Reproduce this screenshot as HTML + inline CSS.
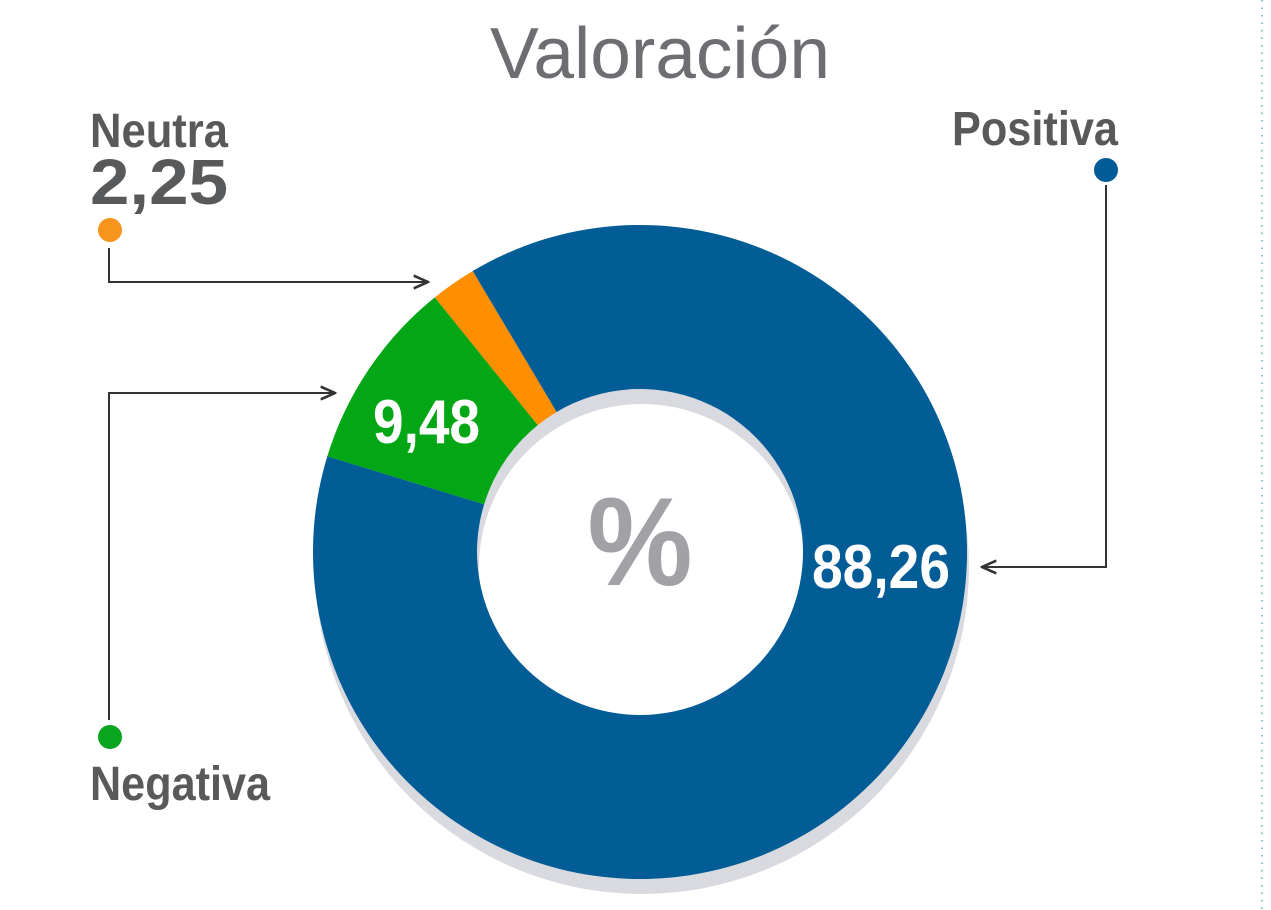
<!DOCTYPE html>
<html><head><meta charset="utf-8"><style>
body{margin:0;width:1271px;height:910px;background:#fff;overflow:hidden;position:relative;font-family:"Liberation Sans",sans-serif}
</style></head><body>
<svg width="1271" height="910" viewBox="0 0 1271 910" style="position:absolute;left:0;top:0">
<defs><marker id="arr" viewBox="0 0 10 10" refX="9" refY="5" markerWidth="8" markerHeight="8" orient="auto"><path d="M0,1 L9,5 L0,9" fill="none" stroke="#333" stroke-width="1.6"/></marker></defs>
<line x1="1262" y1="0" x2="1262" y2="910" stroke="#6ab" stroke-width="1.5" stroke-dasharray="1.5 6"/>
<text x="660" y="78" text-anchor="middle" font-size="72" textLength="340" lengthAdjust="spacingAndGlyphs" fill="#6d6e71">Valoración</text>
<g id="rings"></g>
<text x="640" y="585" text-anchor="middle" font-weight="bold" font-size="125" textLength="105" lengthAdjust="spacingAndGlyphs" fill="#a2a1a6">%</text>
<g font-weight="bold" fill="#58595b">
<text x="90" y="147" font-size="48" textLength="138" lengthAdjust="spacingAndGlyphs">Neutra</text>
<text x="90" y="204" font-size="64" textLength="138" lengthAdjust="spacingAndGlyphs" id="neutraVal"></text>
<text x="90" y="800" font-size="48" textLength="180" lengthAdjust="spacingAndGlyphs">Negativa</text>
<text x="952" y="145" font-size="48" textLength="166" lengthAdjust="spacingAndGlyphs">Positiva</text>
</g>
<circle cx="110" cy="230" r="12" fill="#f7941d"/>
<circle cx="110" cy="737" r="12" fill="#0aa51e"/>
<circle cx="1106" cy="170" r="12" fill="#005b96"/>
<g fill="none" stroke="#333" stroke-width="2">
<polyline points="109,248 109,282 428,282" marker-end="url(#arr)"/>
<polyline points="109,720 109,393 335,393" marker-end="url(#arr)"/>
<polyline points="1106,185 1106,567 982,567" marker-end="url(#arr)"/>
</g>
<g id="vals" font-weight="bold" fill="#fff"></g>
</svg>
<script>
const categories=["Negativa","Neutra","Positiva"];
const values=[9.48,2.25,88.26];
const colors=["#03a614","#fd8f00","#025c96"];
const cx=640,cy=552,R=327,r=163,startDeg=-73;
const ns="http://www.w3.org/2000/svg";
const g=document.getElementById('rings');
function pt(a,rad){const t=a*Math.PI/180;return [cx+rad*Math.sin(t),cy-rad*Math.cos(t)];}
const sh=document.createElementNS(ns,'path');
sh.setAttribute('d',`M${cx+2},${cy+15-R}a${R},${R} 0 1,1 0,${2*R}a${R},${R} 0 1,1 0,${-2*R}zM${cx+2},${cy+15-r}a${r},${r} 0 1,0 0,${2*r}a${r},${r} 0 1,0 0,${-2*r}z`);
sh.setAttribute('fill','#d9dadf');sh.setAttribute('fill-rule','evenodd');


g.appendChild(sh);
const total=values.reduce((a,b)=>a+b,0);
let a=startDeg;
values.forEach((v,i)=>{
 const sw=v/total*360,b=a+sw,lg=sw>180?1:0;
 const [x1,y1]=pt(a,R),[x2,y2]=pt(b,R),[x3,y3]=pt(b,r),[x4,y4]=pt(a,r);
 const p=document.createElementNS(ns,'path');
 p.setAttribute('d',`M${x1},${y1}A${R},${R} 0 ${lg},1 ${x2},${y2}L${x3},${y3}A${r},${r} 0 ${lg},0 ${x4},${y4}Z`);
 p.setAttribute('fill',colors[i]);
 
 
 g.appendChild(p);
 a=b;
});
const fmt=v=>v.toFixed(2).replace('.',',');
document.getElementById('neutraVal').textContent=fmt(values[1]);
const vg=document.getElementById('vals');
[[2,812,588,138],[0,373,443,107]].forEach(([i,x,y,w])=>{
 const t=document.createElementNS(ns,'text');
 t.setAttribute('x',x);t.setAttribute('y',y);t.setAttribute('font-size','62');
 t.setAttribute('textLength',w);t.setAttribute('lengthAdjust','spacingAndGlyphs');
 t.textContent=fmt(values[i]);
 
 
 vg.appendChild(t);
});
</script>
</body></html>
